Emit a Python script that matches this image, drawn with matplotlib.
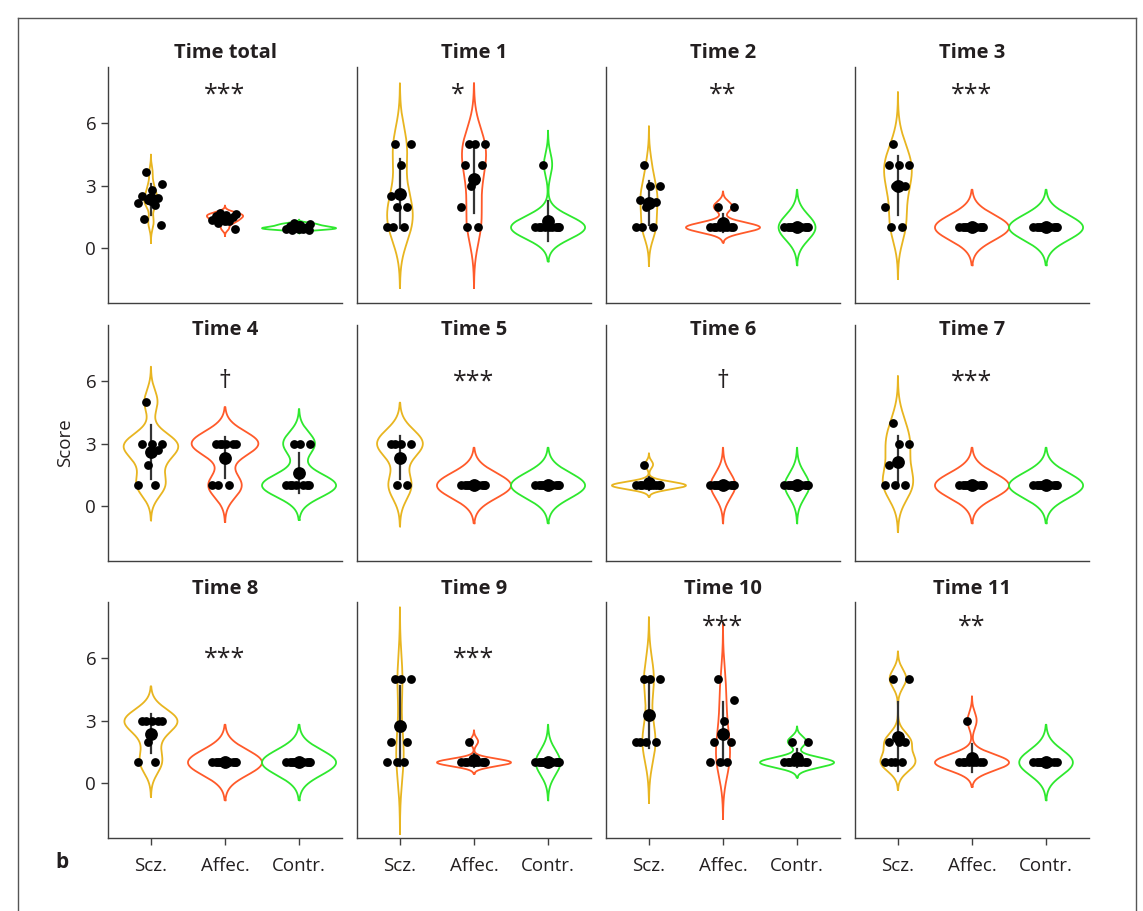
#!/usr/bin/env python
# coding: utf-8
"""
Violin plots of scores per group for each time point (3 x 4 grid).
"""
import numpy as np
import matplotlib
matplotlib.use('Agg')
from matplotlib import pyplot as plt
from matplotlib.lines import Line2D

plt.rcParams['font.family'] = ['Open Sans', 'DejaVu Sans']

TITLES = ['Time total', 'Time 1', 'Time 2', 'Time 3',
          'Time 4', 'Time 5', 'Time 6', 'Time 7',
          'Time 8', 'Time 9', 'Time 10', 'Time 11']
GROUPS = ['Scz.', 'Affec.', 'Contr.']
SIGNIF = ['***', '*', '**', '***',
          '\u2020', '***', '\u2020', '***',
          '***', '***', '***', '**']

# scores, one list per panel
SCZ = [[3.65, 3.05, 2.8, 2.5, 2.4, 2.3, 2.15, 2.05, 1.4, 1.1],
       [5, 5, 4, 2.5, 2, 2, 1, 1, 1],
       [4, 3, 3, 2.3, 2.2, 2, 1, 1, 1],
       [5, 4, 4, 4, 3, 3, 2, 1, 1],
       [5, 3, 3, 3, 2.7, 2, 1, 1],
       [3, 3, 3, 3, 1, 1],
       [2, 1, 1, 1, 1, 1, 1, 1, 1, 1],
       [4, 3, 3, 2, 1, 1, 1],
       [3, 3, 3, 3, 3, 2, 1, 1],
       [5, 5, 5, 2, 2, 1, 1, 1],
       [5, 5, 5, 2, 2, 2, 2],
       [5, 5, 2, 2, 2, 1, 1, 1, 1]]
AFFEC = [[1.7, 1.65, 1.6, 1.55, 1.5, 1.45, 1.35, 1.3, 1.2, 0.95],
         [5, 5, 5, 4, 4, 3, 2, 1, 1],
         [2, 2, 1, 1, 1, 1, 1, 1, 1, 1],
         [1, 1, 1, 1, 1, 1, 1, 1, 1, 1],
         [3, 3, 3, 3, 3, 3, 1, 1, 1],
         [1, 1, 1, 1, 1, 1, 1, 1, 1, 1],
         [1, 1, 1, 1, 1, 1, 1, 1, 1, 1],
         [1, 1, 1, 1, 1, 1, 1, 1, 1, 1],
         [1, 1, 1, 1, 1, 1, 1, 1, 1, 1],
         [2, 1, 1, 1, 1, 1, 1, 1, 1, 1],
         [5, 4, 3, 2, 2, 1, 1, 1],
         [3, 1, 1, 1, 1, 1, 1, 1, 1]]
CONTR = [[1.2, 1.15, 1.1, 1.05, 1.0, 1.0, 0.95, 0.95, 0.9, 0.9],
         [4, 1, 1, 1, 1, 1, 1, 1, 1, 1],
         [1, 1, 1, 1, 1, 1, 1, 1, 1, 1],
         [1, 1, 1, 1, 1, 1, 1, 1, 1, 1],
         [3, 3, 3, 1, 1, 1, 1, 1, 1, 1],
         [1, 1, 1, 1, 1, 1, 1, 1, 1, 1],
         [1, 1, 1, 1, 1, 1, 1, 1, 1, 1],
         [1, 1, 1, 1, 1, 1, 1, 1, 1, 1],
         [1, 1, 1, 1, 1, 1, 1, 1, 1, 1],
         [1, 1, 1, 1, 1, 1, 1, 1, 1, 1],
         [2, 2, 1, 1, 1, 1, 1, 1, 1, 1],
         [1, 1, 1, 1, 1, 1, 1, 1, 1]]

COLORS = ['#E8B520', '#FF5A2A', '#2EE82E']
TXT = '#231F20'
# (x, y) of the significance marks, in data units of each panel
SIG_POS = [(1, 7.3), (0.78, 7.3), (1, 7.3), (1, 7.3),
           (1, 5.95), (1, 5.95), (1, 5.95), (1, 5.95),
           (1, 5.95), (1, 5.95), (1, 7.45), (1, 7.45)]
# title centre height per row, in axes fraction
TITLE_Y = [1.059, 0.979, 1.055]


def bandwidth(y):
    """ Silverman-like rule with fallbacks for ties. """
    n = len(y)
    sd = np.std(y, ddof=1)
    iqr = (np.percentile(y, 75) - np.percentile(y, 25)) / 1.34
    s = min(sd, iqr) if iqr > 0 else sd
    if s <= 0:
        return 0.6
    return 0.9 * s * n ** -0.2


def kde(y):
    y = np.asarray(y, float)
    h = bandwidth(y)
    grid = np.linspace(y.min() - 3 * h, y.max() + 3 * h, 300)
    dens = np.exp(-0.5 * ((grid[:, None] - y[None, :]) / h) ** 2).sum(1)
    dens /= len(y) * h * np.sqrt(2 * np.pi)
    return grid, dens


def draw_panel(ax, groups, sig, sig_pos):
    curves = [kde(g) for g in groups]
    dmax = max(d.max() for _, d in curves)
    for k, (g, (grid, dens)) in enumerate(zip(groups, curves)):
        w = 0.5 * dens / dmax
        xs = np.concatenate([k + w, (k - w)[::-1], [k + w[0]]])
        ys = np.concatenate([grid, grid[::-1], [grid[0]]])
        ax.plot(xs, ys, color=COLORS[k], lw=1.3, zorder=2)
        g = np.asarray(g, float)
        jit = np.array([(i * 0.618034 + 0.31) % 1 for i in range(len(g))])
        ax.scatter(k + 0.36 * (jit - 0.5), g, s=40, color='black',
                   lw=0, zorder=4)
        m, sd = g.mean(), g.std(ddof=1)
        ax.plot([k, k], [m - sd, m + sd], color='#333333', lw=1.6,
                zorder=3)
        ax.scatter([k], [m], s=85, color='black', lw=0, zorder=5)
    ax.text(sig_pos[0], sig_pos[1], sig, ha='center', va='center',
            fontsize=18, color=TXT)


W, H = 1143, 911
fig = plt.figure(figsize=(W / 100, H / 100), dpi=100)

lefts = [108, 357, 606, 855]
tops = [67, 325, 602]
aw, ah = 234, 236

for i, title in enumerate(TITLES):
    r, c = divmod(i, 4)
    ax = fig.add_axes([lefts[c] / W, 1 - (tops[r] + ah) / H, aw / W, ah / H])
    draw_panel(ax, [SCZ[i], AFFEC[i], CONTR[i]], SIGNIF[i], SIG_POS[i])
    ax.text(0.5, TITLE_Y[r], title, transform=ax.transAxes, ha='center',
            va='center', fontsize=14.5, fontweight='bold', color=TXT)
    ax.set_xlim(-0.58, 2.58)
    ax.set_ylim(-2.6, 8.65)
    for s in ['top', 'right']:
        ax.spines[s].set_visible(False)
    for s in ['left', 'bottom']:
        ax.spines[s].set_color('#404040')
        ax.spines[s].set_linewidth(1.0)
    ax.tick_params(colors='#404040', labelcolor=TXT, labelsize=13.5,
                   length=5, width=1)
    ax.tick_params(axis='x', pad=9)
    if c == 0:
        ax.set_yticks([0, 3, 6])
    else:
        ax.set_yticks([])
    if r == 2:
        ax.set_xticks(range(3))
        ax.set_xticklabels(GROUPS)
    else:
        ax.set_xticks([])
    if r == 1 and c == 0:
        ax.set_ylabel('Score', fontsize=13.5, color=TXT, labelpad=8)

fig.text(62 / W, 1 - 862 / H, 'b', fontsize=15, fontweight='bold',
         color=TXT, ha='center', va='center')

# frame around the figure
x0, x1, y0 = 18 / W, 1136 / W, 1 - 18 / H
fig.add_artist(Line2D([x0, x1], [y0, y0], color='#555555', lw=1))
fig.add_artist(Line2D([x0, x0], [y0, 0], color='#555555', lw=1))
fig.add_artist(Line2D([x1, x1], [y0, 0], color='#555555', lw=1))

fig.savefig('out.png', dpi=100, facecolor='white')
